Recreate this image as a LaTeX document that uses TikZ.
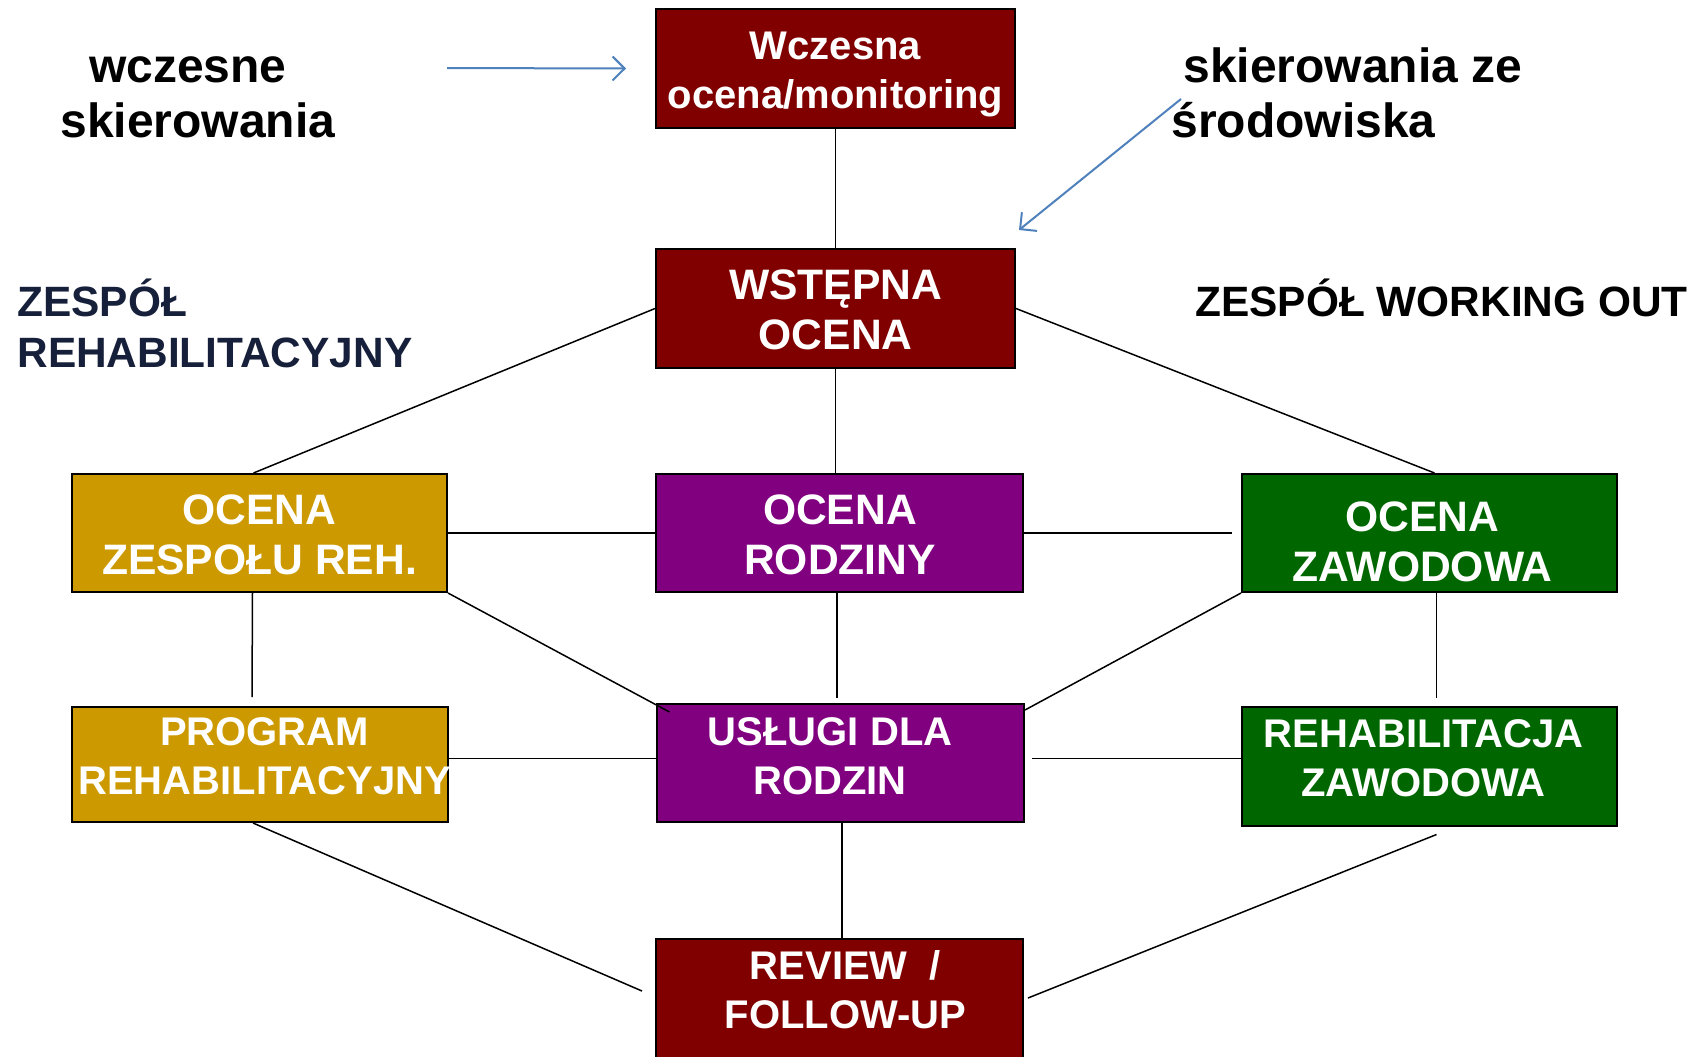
\documentclass[tikz,border=0pt]{standalone}
\usepackage{fontspec}
\setmainfont{Liberation Sans}
\usetikzlibrary{arrows.meta,calc}
\definecolor{dred}{HTML}{800000}
\definecolor{gold}{HTML}{CC9900}
\definecolor{purp}{HTML}{800080}
\definecolor{dgreen}{HTML}{006600}
\definecolor{refblue}{HTML}{4F81BD}
\definecolor{navy}{HTML}{17203A}
\begin{document}
\begin{tikzpicture}[x=0.5pt,y=-0.5pt,
  box/.style={draw=black, line width=1pt, rectangle, inner sep=0pt},
  btext/.style={text=white, font=\bfseries\fontsize{20}{24.5}\selectfont, align=center, inner sep=0pt},
  bigtext/.style={btext, font=\bfseries\fontsize{21.3}{25}\selectfont},
  conn/.style={draw=black, line width=0.75pt},
  refarrow/.style={draw=refblue, line width=1pt, -{Straight Barb[length=6pt,width=12pt]}},
  side/.style={font=\bfseries\fontsize{24}{27.5}\selectfont, inner sep=0pt},
  team/.style={font=\bfseries\fontsize{21.2}{25.5}\selectfont, inner sep=0pt}
]
\useasboundingbox (0,0) rectangle (1704,1056);
\fill[white] (0,0) rectangle (1704,1056);

% boxes
\node[box, fill=dred, minimum width=179.5pt, minimum height=59.5pt] (wcz) at (835.5,68.5) {};
\node[box, fill=dred, minimum width=179.5pt, minimum height=59.5pt] (wst) at (835.5,308.5) {};
\node[box, fill=gold, minimum width=187.5pt, minimum height=59pt] (zesp) at (259.5,533) {};
\node[box, fill=purp, minimum width=183.5pt, minimum height=59pt] (rodz) at (839.5,533) {};
\node[box, fill=dgreen, minimum width=187.5pt, minimum height=59pt] (zaw) at (1429.5,533) {};
\node[box, fill=gold, minimum width=188pt, minimum height=57.5pt] (prog) at (260,764.5) {};
\node[box, fill=purp, minimum width=183.5pt, minimum height=59pt] (usl) at (840.5,763) {};
\node[box, fill=dgreen, minimum width=187.5pt, minimum height=59.5pt] (rzaw) at (1429.5,766.5) {};
\node[box, fill=dred, minimum width=183.5pt, minimum height=120pt] (rev) at (839.5,1059) {};

% connectors
\draw[conn] (wcz.south) -- (wst.north);
\draw[conn] (wst.west) -- ($(zesp.north)+(-6,0)$);
\draw[conn] (wst.east) -- ($(zaw.north)+(5,0)$);
\draw[conn] (wst.south) -- (wst.south |- rodz.north);
\draw[conn] (zesp.east) -- (rodz.west);
\draw[conn, shorten >=4.5pt] (rodz.east) -- (zaw.west);
\draw[conn] ($(zesp.south)+(-7,0)$) -- ($(prog.north)+(-8,-9)$);
\draw[conn] (zesp.south east) -- ($(usl.north west)+(13.5,9)$);
\draw[conn] ($(rodz.south)+(-2.5,0)$) -- ($(usl.north)+(-3.5,-5)$);
\draw[conn] (zaw.south west) -- ($(usl.north east)+(0,7)$);
\draw[conn] ($(zaw.south)+(7,0)$) -- ($(rzaw.north)+(7,-8)$);
\draw[conn] ($(prog.east)+(0,-6)$) -- ($(usl.west)+(0,-4.5)$);
\draw[conn, shorten <=3.5pt] ($(usl.east)+(0,-4.5)$) -- ($(rzaw.west)+(0,-8)$);
\draw[conn] ($(prog.south)+(-7,0)$) -- ($(rev.north west)+(-13,53)$);
\draw[conn] ($(usl.south)+(1.5,0)$) -- ($(usl.south |- rev.north)+(1.5,0)$);
\draw[conn] ($(rzaw.south)+(7,7.5)$) -- ($(rev.north east)+(4,60)$);

% box texts
\node[btext] (wczT) at (835.5,74.5) {Wczesna\\ocena/monitoring};
\node[bigtext] (wstT) at (835.7,310) {WSTĘPNA\\OCENA};
\node[bigtext] (zespT) at (259.5,534.5) {OCENA\\ZESPOŁU REH.};
\node[bigtext] (rodzT) at (840,534.5) {OCENA\\RODZINY};
\node[bigtext] (zawT) at (1422.5,542) {OCENA\\ZAWODOWA};
\node[btext] (progT) at (264.6,756.3) {PROGRAM\\REHABILITACYJNY};
\node[btext] (uslT) at (830.2,756.3) {USŁUGI DLA\\RODZIN};
\node[btext] (rzawT) at (1423.6,758) {REHABILITACJA\\ZAWODOWA};
\node[btext] (revT) at (845.5,990) {REVIEW~~/\\FOLLOW-UP};

% outer texts
\node[side, align=center] (early) at (197.8,97) {wczesne\hspace*{10pt}\\skierowania};
\node[side, align=left, anchor=west] (env) at (1171,93) {\hspace*{6pt}skierowania ze\\środowiska};
\node[team, align=left, anchor=west, text=navy] (teamL) at (17,323.5) {ZESPÓŁ\\REHABILITACYJNY};
\node[team, anchor=west] (teamR) at (1195,298) {ZESPÓŁ WORKING OUT};

\coordinate (a1) at (447,68);
\coordinate (a2) at (1181,99);
\draw[refarrow] (a1) -- ($(wcz.west)+(-29,0)$);
\draw[refarrow] (a2) -- ($(wst.north east)+(3,-18)$);
\end{tikzpicture}
\end{document}
